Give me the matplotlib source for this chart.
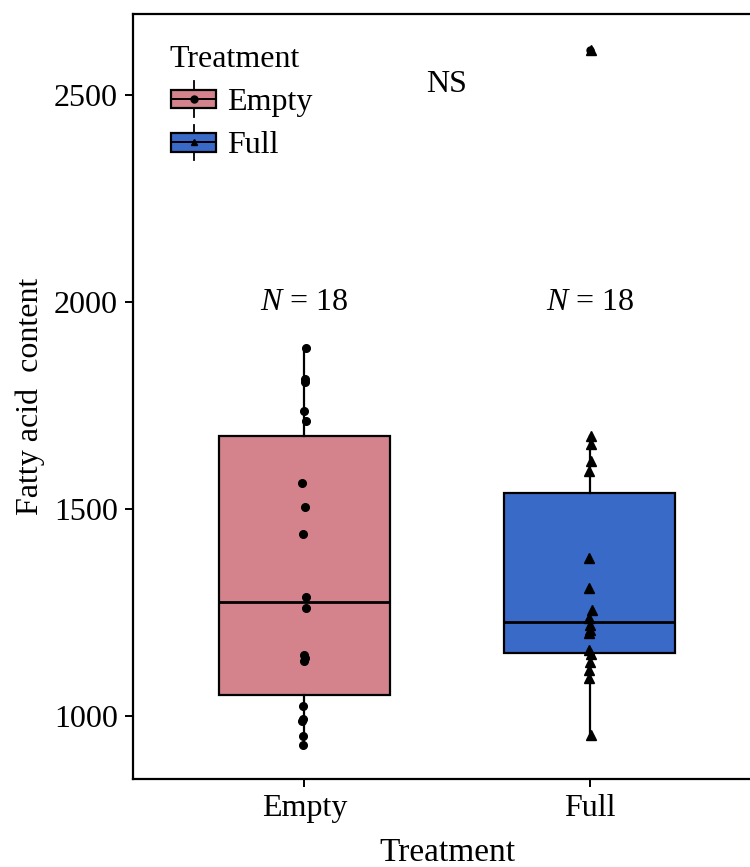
import matplotlib
matplotlib.use("Agg")
import matplotlib.pyplot as plt
from matplotlib.legend_handler import HandlerBase
from matplotlib.patches import Rectangle
from matplotlib.lines import Line2D

# data
groups = ["Empty", "Full"]
empty_vals = [1888, 1815, 1807, 1737, 1713, 1564, 1505, 1441, 1288, 1262,
              1147, 1141, 1133, 1025, 994, 989, 952, 930]
full_vals = [2608, 1677, 1657, 1617, 1593, 1381, 1309, 1256, 1236, 1220,
             1208, 1200, 1160, 1150, 1131, 1111, 1091, 955]
# small horizontal jitter seen in the picture (category units)
empty_jit = [0.006, 0.003, 0.003, 0.0, 0.006, -0.009, 0.003, -0.005, 0.006, 0.006,
             0.0, 0.003, 0.0, -0.005, -0.003, -0.008, -0.005, -0.005]
full_jit = [0.006, 0.004, 0.004, 0.006, -0.004, -0.003, -0.003, 0.008, -0.004, 0.002,
            0.0, -0.003, -0.004, 0.003, 0.0, -0.004, -0.003, 0.004]
fills = ["#D4838D", "#3A6AC8"]
markers = ["o", "^"]
n_labels = ["18", "18"]

plt.rcParams["font.family"] = ["Liberation Serif", "DejaVu Serif"]
plt.rcParams["mathtext.fontset"] = "custom"
plt.rcParams["mathtext.it"] = "Liberation Serif:italic"
plt.rcParams["mathtext.rm"] = "Liberation Serif"

FS = 23

fig = plt.figure(figsize=(7.5, 8.67), dpi=100)
ax = fig.add_axes([0.1773, 0.1015, 1.0147 - 0.1773, 0.9839 - 0.1015])

bp = ax.boxplot([empty_vals, full_vals], positions=[1, 2], widths=0.6,
                patch_artist=True, whis=1.5,
                medianprops=dict(color="black", linewidth=2.0),
                boxprops=dict(edgecolor="black", linewidth=1.6),
                whiskerprops=dict(color="black", linewidth=1.6),
                capprops=dict(linewidth=0),
                flierprops=dict(marker="o", markerfacecolor="black",
                                markeredgecolor="black", markersize=5))
for patch, c in zip(bp["boxes"], fills):
    patch.set_facecolor(c)

for i, (vals, jit) in enumerate([(empty_vals, empty_jit), (full_vals, full_jit)]):
    xs = [i + 1 + j for j in jit]
    ax.plot(xs, vals, linestyle="none", marker=markers[i], color="black",
            markersize=5.5 if i == 0 else 6.5, zorder=4)

for i, n in enumerate(n_labels):
    ax.text(i + 1, 2000, r"$\it{N}$ = " + n, ha="center", va="center", fontsize=FS)
ax.text(1.5, 2525, "NS", ha="center", va="center", fontsize=FS)

ax.set_xlim(0.4, 2.6)
ax.set_ylim(848, 2696)
ax.set_xticks([1, 2])
ax.set_xticklabels(groups)
ax.set_yticks([1000, 1500, 2000, 2500])
ax.tick_params(axis="both", labelsize=FS, length=6, width=1.4, direction="out", pad=5)
ax.set_xlabel("Treatment", fontsize=FS + 1, labelpad=10)
ax.set_ylabel("Fatty acid  content", fontsize=FS, labelpad=6)
for s in ax.spines.values():
    s.set_linewidth(1.6)


class BoxKey(HandlerBase):
    def __init__(self, fill, marker):
        super().__init__()
        self.fill = fill
        self.marker = marker

    def create_artists(self, legend, orig_handle, xdescent, ydescent, width, height, fontsize, trans):
        cx = width / 2 - xdescent
        cy = height / 2 - ydescent
        w, h = width * 0.95, height * 0.7
        vline = Line2D([cx, cx], [cy - h * 0.95, cy + h * 0.95], color="black", lw=1.3, transform=trans)
        rect = Rectangle((cx - w / 2, cy - h / 2), w, h, facecolor=self.fill,
                         edgecolor="black", lw=1.6, transform=trans)
        hline = Line2D([cx - w / 2, cx + w / 2], [cy, cy], color="black", lw=1.4, transform=trans)
        mk = Line2D([cx], [cy], marker=self.marker, color="black", markersize=5, linestyle="none",
                    transform=trans)
        return [vline, rect, hline, mk]


h1 = Rectangle((0, 0), 1, 1)
h2 = Rectangle((0, 0), 1, 1)
leg = ax.legend([h1, h2], groups, title="Treatment", loc="upper left",
                bbox_to_anchor=(0.028, 0.985), frameon=False, fontsize=FS,
                title_fontsize=FS, handlelength=1.5, handleheight=0.9,
                handletextpad=0.3, labelspacing=0.38, borderaxespad=0.2,
                handler_map={h1: BoxKey(fills[0], "o"), h2: BoxKey(fills[1], "^")})
leg._legend_box.align = "left"

fig.savefig("out.png", dpi=100)
